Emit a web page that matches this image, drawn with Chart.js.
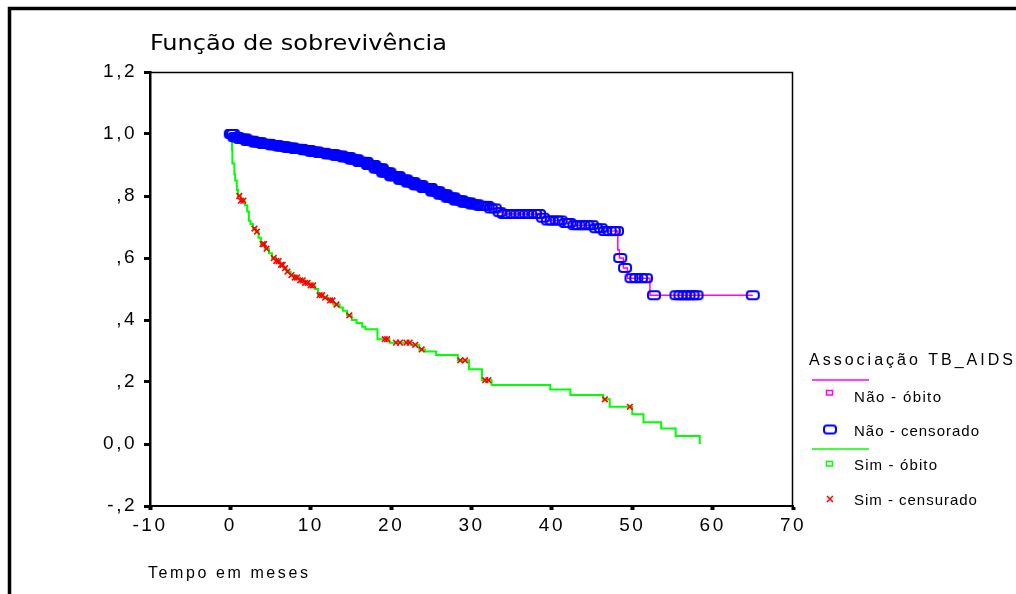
<!DOCTYPE html>
<html>
<head>
<meta charset="utf-8">
<script src="https://cdn.jsdelivr.net/npm/chart.js@4/dist/chart.umd.min.js"></script>
<style>
  html, body { margin: 0; padding: 0; background: #fff; overflow: hidden; }
  #wrap { position: relative; width: 1016px; height: 594px; }
</style>
</head>
<body>
<div id="wrap"><canvas id="km" width="1016" height="594"></canvas></div>
<script>
// Axis ticks
const xTickValues = [-10, 0, 10, 20, 30, 40, 50, 60, 70];
const yTickValues = [-0.2, 0, 0.2, 0.4, 0.6, 0.8, 1.0, 1.2];
const yTickLabels = ['-,2', '0,0', ',2', ',4', ',6', ',8', '1,0', '1,2'];

// Kaplan-Meier steps, group "Não" (time in months, survival after the step)
const naoTempos = [0, 0.5, 1.0, 2.0, 3.0, 4.0, 5.0, 6.0, 7.0, 8.0, 9.0, 10.0, 11.0, 12.0, 13.0,
  14.0, 15.0, 16.0, 17.0, 18.0, 19.0, 20.0, 21.0, 22.0, 23.0, 24.0, 25.0, 26.0, 27.0, 28.0,
  29.0, 30.0, 31.0, 32.2, 33.0, 34.0, 38.5, 39.2, 41.6, 42.6, 45.4, 46.4, 48.2, 48.4, 48.9,
  49.4, 52.2, 65.0];
const naoSobrev = [1.0, 0.990, 0.985, 0.978, 0.973, 0.968, 0.964, 0.960, 0.956, 0.952, 0.948,
  0.943, 0.939, 0.935, 0.930, 0.925, 0.918, 0.910, 0.900, 0.889, 0.876, 0.864, 0.853, 0.844,
  0.835, 0.826, 0.815, 0.805, 0.795, 0.786, 0.779, 0.773, 0.768, 0.760, 0.748, 0.742, 0.730,
  0.721, 0.713, 0.706, 0.696, 0.687, 0.626, 0.600, 0.568, 0.535, 0.480, 0.480];
// Censored follow-up times, group "Não"
const naoCensurados = [0.05, 0.2, 0.35, 0.5, 0.65, 0.8, 0.95, 1.1, 1.25, 1.4, 1.6, 1.75, 1.9,
  2.05, 2.2, 2.4, 2.55, 2.7, 2.85, 3.0, 3.2, 3.35, 3.5, 3.65, 3.8, 4.0, 4.15, 4.3, 4.45, 4.6,
  4.8, 4.95, 5.1, 5.25, 5.4, 5.6, 5.75, 5.9, 6.05, 6.2, 6.4, 6.55, 6.7, 6.85, 7.0, 7.2, 7.35,
  7.5, 7.65, 7.8, 8.0, 8.15, 8.3, 8.45, 8.6, 8.8, 8.95, 9.1, 9.25, 9.4, 9.6, 9.75, 9.9, 10.05,
  10.2, 10.4, 10.55, 10.7, 10.85, 11.0, 11.2, 11.35, 11.5, 11.65, 11.8, 12.0, 12.15, 12.3,
  12.45, 12.6, 12.8, 12.95, 13.1, 13.25, 13.4, 13.6, 13.75, 13.9, 14.05, 14.2, 14.4, 14.55,
  14.7, 14.85, 15.0, 15.2, 15.35, 15.5, 15.65, 15.8, 16.0, 16.15, 16.3, 16.45, 16.6, 16.8,
  16.95, 17.1, 17.25, 17.4, 17.6, 17.75, 17.9, 18.05, 18.2, 18.4, 18.55, 18.7, 18.85, 19.0,
  19.2, 19.35, 19.5, 19.65, 19.8, 20.0, 20.15, 20.3, 20.45, 20.6, 20.8, 20.95, 21.1, 21.25,
  21.4, 21.6, 21.75, 21.9, 22.05, 22.2, 22.4, 22.55, 22.7, 22.85, 23.0, 23.2, 23.35, 23.5,
  23.65, 23.8, 24.0, 24.15, 24.3, 24.45, 24.6, 24.8, 24.95, 25.1, 25.25, 25.4, 25.6, 25.75,
  25.9, 26.05, 26.2, 26.4, 26.55, 26.7, 26.85, 27.0, 27.2, 27.35, 27.5, 27.65, 27.8, 28.0,
  28.2, 28.4, 28.6, 28.8, 29.0, 29.2, 29.4, 29.6, 29.8, 30.0, 30.25, 30.5, 30.75, 31.0, 31.25,
  31.5, 31.75, 32.0, 32.4, 32.9, 33.5, 34.0, 34.6, 35.1, 35.7, 36.2, 36.8, 37.3, 37.9, 38.4,
  38.9, 39.5, 40.0, 40.6, 41.1, 41.7, 42.2, 42.8, 43.3, 43.9, 44.4, 45.0, 45.5, 46.1, 46.6,
  47.2, 47.7, 48.1, 48.5, 49.1, 49.9, 50.5, 51.1, 51.7, 52.7, 55.5, 56.0, 56.5, 57.0, 57.5,
  58.0, 65.0];

// Kaplan-Meier steps, group "Sim"
const simTempos = [0, 0.2, 0.25, 0.5, 0.6, 0.8, 0.95, 1.3, 1.8, 2.1, 2.3, 2.5, 2.8, 3.2, 3.5,
  3.8, 4.3, 4.8, 5.2, 5.7, 6.2, 6.6, 7.0, 7.5, 8.0, 8.6, 9.2, 9.8, 10.5, 10.9, 11.6, 12.2,
  12.8, 13.6, 14.0, 14.5, 15.1, 15.7, 16.4, 16.8, 18.3, 19.8, 22.5, 23.5, 24.2, 25.6, 28.3,
  29.7, 31.3, 32.5, 39.8, 42.3, 46.4, 47.2, 50.0, 51.4, 53.6, 55.4, 58.4];
const simSobrev = [1.0, 0.950, 0.905, 0.870, 0.850, 0.820, 0.800, 0.785, 0.770, 0.750, 0.720,
  0.710, 0.695, 0.685, 0.665, 0.645, 0.630, 0.615, 0.600, 0.590, 0.578, 0.567, 0.556, 0.545,
  0.537, 0.528, 0.520, 0.512, 0.500, 0.480, 0.472, 0.463, 0.450, 0.440, 0.430, 0.415, 0.400,
  0.390, 0.378, 0.370, 0.338, 0.327, 0.320, 0.305, 0.298, 0.287, 0.270, 0.241, 0.206, 0.190,
  0.176, 0.158, 0.144, 0.120, 0.096, 0.070, 0.050, 0.026, 0.0];
// Censored follow-up times, group "Sim"
const simCensurados = [1.1, 1.3, 1.6, 3.0, 3.3, 4.0, 4.2, 4.5, 5.4, 5.7, 6.0, 6.3, 6.5, 6.8,
  7.1, 7.6, 8.0, 8.3, 8.7, 9.0, 9.3, 9.6, 10.0, 10.3, 11.1, 11.4, 11.8, 12.4, 12.7, 13.2,
  14.8, 19.2, 19.5, 20.6, 21.1, 21.9, 22.3, 23.0, 23.8, 28.6, 29.2, 31.7, 32.1, 46.6, 49.7];

// survival value in force at time t
function survivalAt(times, surv, t) {
  let s = surv[0];
  for (let i = 0; i < times.length; i++) if (times[i] <= t) s = surv[i];
  return s;
}
const stepPoints = (times, surv) => times.map((t, i) => ({ x: t, y: surv[i] }));
const censorPoints = (cens, times, surv) => cens.map(t => ({ x: t, y: survivalAt(times, surv, t) }));

// hollow rounded box used for censored "Não" cases
function roundedBox(color, w, h, r, lw) {
  const c = document.createElement('canvas');
  c.width = w + 4; c.height = h + 4;
  const g = c.getContext('2d');
  const x = 2, y = 2;
  g.strokeStyle = color; g.lineWidth = lw;
  g.beginPath();
  g.moveTo(x + r, y);
  g.lineTo(x + w - r, y); g.arcTo(x + w, y, x + w, y + r, r);
  g.lineTo(x + w, y + h - r); g.arcTo(x + w, y + h, x + w - r, y + h, r);
  g.lineTo(x + r, y + h); g.arcTo(x, y + h, x, y + h - r, r);
  g.lineTo(x, y + r); g.arcTo(x, y, x + r, y, r);
  g.closePath(); g.stroke();
  return c;
}
const blueBox = roundedBox('#0000ff', 12, 8, 3, 2);

// text stretched by letter spacing to a given width
function spacedText(ctx, text, x, y, width, font) {
  ctx.font = font;
  ctx.letterSpacing = '0px';
  const w = ctx.measureText(text).width;
  const ls = (width - w) / (text.length - 1);
  ctx.letterSpacing = ls.toFixed(2) + 'px';
  ctx.textAlign = 'left';
  ctx.textBaseline = 'alphabetic';
  ctx.fillText(text, x, y);
  ctx.letterSpacing = '0px';
}

const decor = {
  id: 'decor',
  beforeDraw(chart) {
    chart.ctx.letterSpacing = '2.5px';
  },
  afterDraw(chart) {
    const ctx = chart.ctx, a = chart.chartArea;
    ctx.save();
    ctx.letterSpacing = '0px';
    ctx.strokeStyle = '#000';

    // plot frame (top and right)
    ctx.lineWidth = 1.5;
    ctx.beginPath();
    ctx.moveTo(a.left, a.top + 0.5);
    ctx.lineTo(a.right - 0.5, a.top + 0.5);
    ctx.lineTo(a.right - 0.5, a.bottom);
    ctx.stroke();

    // outer border
    ctx.lineWidth = 3.5;
    ctx.beginPath();
    ctx.moveTo(9.5, 594);
    ctx.lineTo(9.5, 8.5);
    ctx.lineTo(1016, 8.5);
    ctx.stroke();

    ctx.fillStyle = '#000';
    // title
    ctx.font = '22px "DejaVu Sans Condensed", "DejaVu Sans", sans-serif';
    const title = 'Função de sobrevivência';
    const tw = ctx.measureText(title).width;
    ctx.save();
    ctx.translate(150, 50);
    ctx.scale(297 / tw, 1);
    ctx.textAlign = 'left';
    ctx.textBaseline = 'alphabetic';
    ctx.fillText(title, 0, 0);
    ctx.restore();

    // x axis title
    spacedText(ctx, 'Tempo em meses', 148, 578, 160, '16px "Liberation Sans", Arial, sans-serif');

    // legend
    const lf = '15px "Liberation Sans", Arial, sans-serif';
    spacedText(ctx, 'Associação TB_AIDS', 809, 365, 204, '16px "Liberation Sans", Arial, sans-serif');

    ctx.lineWidth = 1.5;
    ctx.strokeStyle = '#ff00ff';
    ctx.beginPath(); ctx.moveTo(812, 380); ctx.lineTo(869, 380); ctx.stroke();
    ctx.strokeRect(826.5, 390.5, 6, 4.5);
    ctx.fillStyle = '#000';
    spacedText(ctx, 'Não - óbito', 854, 402, 87, lf);

    ctx.drawImage(blueBox, 830 - blueBox.width / 2, 429.5 - blueBox.height / 2);
    spacedText(ctx, 'Não - censorado', 854, 436, 125, lf);

    ctx.strokeStyle = '#00ff00';
    ctx.beginPath(); ctx.moveTo(812, 449); ctx.lineTo(869, 449); ctx.stroke();
    ctx.strokeRect(826.5, 461.5, 6, 4.5);
    spacedText(ctx, 'Sim - óbito', 854, 470, 83, lf);

    ctx.strokeStyle = '#ff0000';
    ctx.beginPath();
    ctx.moveTo(827, 496); ctx.lineTo(833, 502);
    ctx.moveTo(833, 496); ctx.lineTo(827, 502);
    ctx.stroke();
    spacedText(ctx, 'Sim - censurado', 854, 505, 123, lf);

    ctx.restore();
  }
};

const tickFont = { family: '"Liberation Sans", Arial, sans-serif', size: 19 };

new Chart(document.getElementById('km'), {
  type: 'line',
  data: {
    datasets: [
      {
        label: 'Não - censorado',
        data: censorPoints(naoCensurados, naoTempos, naoSobrev),
        showLine: false,
        pointStyle: blueBox,
        pointRadius: 5,
        order: 0
      },
      {
        label: 'Não',
        data: stepPoints(naoTempos, naoSobrev),
        stepped: true,
        borderColor: '#ff00ff',
        borderWidth: 1.5,
        pointRadius: 0,
        fill: false,
        order: 1
      },
      {
        label: 'Sim - censurado',
        data: censorPoints(simCensurados, simTempos, simSobrev),
        showLine: false,
        pointStyle: 'crossRot',
        pointRadius: 4,
        borderColor: '#ff0000',
        pointBorderColor: '#ff0000',
        pointBorderWidth: 1.6,
        order: 2
      },
      {
        label: 'Sim',
        data: stepPoints(simTempos, simSobrev),
        stepped: true,
        borderColor: '#00ff00',
        borderWidth: 2,
        pointRadius: 0,
        fill: false,
        order: 3
      }
    ]
  },
  options: {
    responsive: false,
    animation: false,
    devicePixelRatio: 1,
    events: [],
    layout: { padding: { left: 0, top: 72, right: 223, bottom: 0 } },
    plugins: {
      legend: { display: false },
      tooltip: { enabled: false },
      title: { display: false }
    },
    scales: {
      x: {
        type: 'linear',
        min: -10,
        max: 70,
        afterBuildTicks(s) { s.ticks = xTickValues.map(v => ({ value: v })); },
        afterFit(s) { s.height = 88; },
        ticks: {
          font: tickFont,
          color: '#000',
          padding: 4,
          autoSkip: false,
          maxRotation: 0,
          callback: v => String(v)
        },
        grid: { drawOnChartArea: false, drawTicks: true, tickLength: 4, tickWidth: 4, tickColor: '#000' },
        border: { display: true, color: '#000', width: 2 }
      },
      y: {
        type: 'linear',
        min: -0.2,
        max: 1.2,
        afterBuildTicks(s) { s.ticks = yTickValues.map(v => ({ value: v })); },
        afterFit(s) { s.width = 150; },
        ticks: {
          font: tickFont,
          color: '#000',
          padding: 7,
          autoSkip: false,
          callback: (v, i) => yTickLabels[i]
        },
        grid: { drawOnChartArea: false, drawTicks: true, tickLength: 6, tickWidth: 3, tickColor: '#000' },
        border: { display: true, color: '#000', width: 2.5 }
      }
    }
  },
  plugins: [decor]
});
</script>
</body>
</html>
